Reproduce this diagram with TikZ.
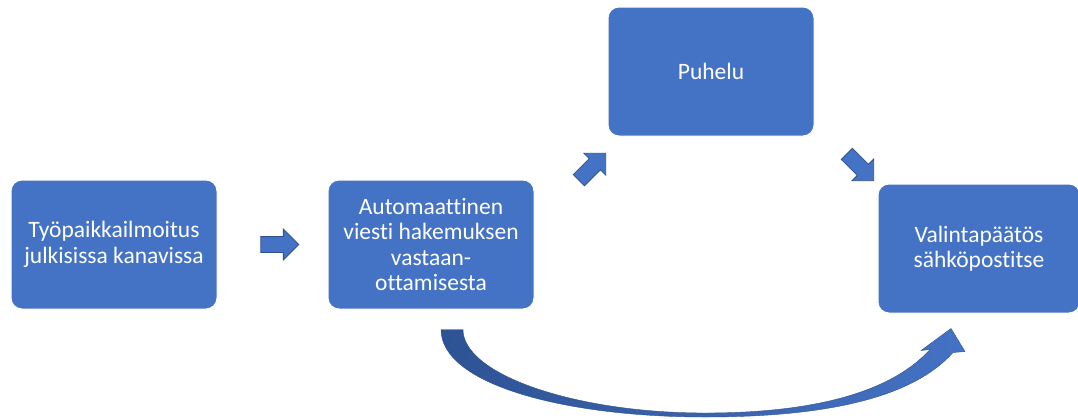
\documentclass[tikz,border=0pt]{standalone}
\usepackage{fontspec}
\setmainfont{Carlito}[Ligatures=NoCommon]
\usetikzlibrary{positioning,calc,shapes.arrows}
\definecolor{boxblue}{HTML}{4472C4}
\definecolor{arrowline}{HTML}{2F528F}
\definecolor{curvedark}{HTML}{2E5394}
\tikzset{
  stepbox/.style={
    fill=boxblue,
    draw=white,
    line width=1pt,
    rounded corners=11pt,
    minimum width=206pt,
    minimum height=129pt,
    text=white,
    align=center,
    font=\fontsize{23.5}{25.5}\selectfont
  },
  blockarrow/.style={
    single arrow,
    fill=boxblue,
    draw=arrowline,
    line width=0.8pt,
    inner xsep=0pt,
    inner ysep=7.5pt,
    minimum height=38pt,
    single arrow head extend=7.5pt,
    single arrow head indent=0pt
  },
  curvearrow/.style={
    left color=curvedark,
    right color=boxblue,
    draw=arrowline,
    line width=0.4pt
  }
}
\begin{document}
\begin{tikzpicture}[x=1pt,y=-1pt]
\useasboundingbox (0,0) rectangle (1078,418);

\node[stepbox] (ilmoitus) at (114,244.5) {Työpaikkailmoitus\\julkisissa kanavissa};
\node[stepbox, right=110pt of ilmoitus] (viesti) {Automaattinen\\viesti hakemuksen\\vastaan-\\ottamisesta};
\node[stepbox, above right=43pt and 73pt of viesti] (puhelu) {Puhelu};
\node[stepbox, minimum width=202pt, below right=47pt and 63pt of puhelu] (paatos) {Valintapäätös\\sähköpostitse};

% block arrows between the boxes
\node[blockarrow] (a12) at ($(ilmoitus.east)!0.53!(viesti.west)$) {};
\node[blockarrow, rotate=45] (a23) at ([shift={(55pt,10pt)}]viesti.north east) {};
\node[blockarrow, rotate=-45] (a34) at ([shift={(43pt,-28pt)}]puhelu.south east) {};

% curved arrow under the row
\coordinate (tail) at ([xshift=10pt,yshift=-20pt]viesti.south);
\coordinate (tip) at ([xshift=-28pt,yshift=-15pt]paatos.south);
\path[curvearrow] (tail) .. controls +(0,55) and (565,417) .. (705,417)
  .. controls (835,417) and (915,395) .. ($(tip)+(2,24)$)
  -- ($(tip)+(14,23)$) -- (tip) -- ($(tip)+(-30,22)$) -- ($(tip)+(-21,21)$)
  .. controls (895,388) and (825,413) .. (705,413)
  .. controls (575,413) and ($(tail)+(22,45)$) .. ($(tail)+(22,0)$) -- cycle;

\end{tikzpicture}
\end{document}
